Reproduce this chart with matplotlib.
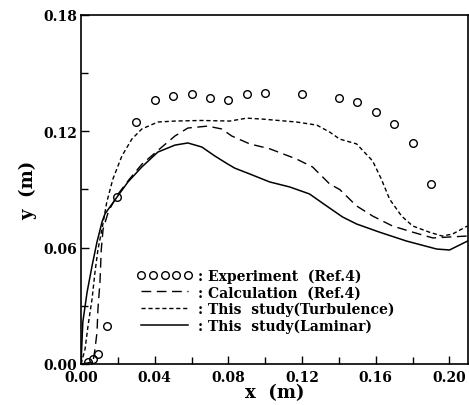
import numpy as np
import matplotlib
matplotlib.use("Agg")
import matplotlib.pyplot as plt
from matplotlib.ticker import MultipleLocator, FormatStrFormatter

# Experiment (Ref.4)
exp_x = [0.004, 0.0065, 0.009, 0.014, 0.0195, 0.030, 0.040, 0.050, 0.060, 0.070,
         0.080, 0.090, 0.100, 0.120, 0.140, 0.150, 0.160, 0.170, 0.180, 0.190]
exp_y = [0.001, 0.0026, 0.005, 0.0196, 0.086, 0.125, 0.136, 0.138, 0.139, 0.137,
         0.136, 0.139, 0.140, 0.139, 0.137, 0.135, 0.130, 0.124, 0.114, 0.093]

# Calculation (Ref.4)
calc_x = [0.000, 0.0065, 0.0076, 0.0087, 0.0092, 0.0103, 0.011, 0.012, 0.015, 0.020,
          0.026, 0.033, 0.0439, 0.051, 0.058, 0.0688, 0.0764, 0.0818, 0.0916, 0.1024,
          0.117, 0.1257, 0.135, 0.1404, 0.1496, 0.1583, 0.169, 0.180, 0.191, 0.200,
          0.2098]
calc_y = [0.000, 0.001, 0.0077, 0.0165, 0.0284, 0.0423, 0.059, 0.0696, 0.079, 0.0875,
          0.095, 0.103, 0.1119, 0.1176, 0.1217, 0.1227, 0.1212, 0.1176, 0.1135, 0.111,
          0.1057, 0.1016, 0.0928, 0.090, 0.0815, 0.0763, 0.0712, 0.068, 0.065, 0.0655,
          0.066]

# This study (Turbulence)
turb_x = [0.000, 0.0022, 0.0038, 0.006, 0.0076, 0.0092, 0.0114, 0.014, 0.0173, 0.0222,
          0.0276, 0.033, 0.0417, 0.051, 0.065, 0.0808, 0.090, 0.0986, 0.117, 0.128,
          0.135, 0.1404, 0.1496, 0.1583, 0.163, 0.1675, 0.174, 0.180, 0.189, 0.196,
          0.2016, 0.2098]
turb_y = [0.000, 0.0077, 0.0196, 0.0335, 0.0474, 0.059, 0.0696, 0.0835, 0.0954, 0.1073,
          0.116, 0.1212, 0.1248, 0.1253, 0.1256, 0.1253, 0.1268, 0.1263, 0.1248, 0.1232,
          0.1196, 0.116, 0.1135, 0.1047, 0.0954, 0.085, 0.0763, 0.0712, 0.068, 0.066,
          0.067, 0.0712]

# This study (Laminar)
lam_x = [0.000, 0.001, 0.0033, 0.006, 0.0087, 0.0114, 0.013, 0.020, 0.0255, 0.033,
         0.0417, 0.051, 0.058, 0.0656, 0.0726, 0.0797, 0.0835, 0.0916, 0.1024, 0.1133,
         0.124, 0.1333, 0.142, 0.1496, 0.162, 0.1767, 0.193, 0.200, 0.2098]
lam_y = [0.000, 0.0217, 0.037, 0.0506, 0.063, 0.0732, 0.0774, 0.0867, 0.0939, 0.1016,
         0.1093, 0.1129, 0.114, 0.1119, 0.1073, 0.1031, 0.101, 0.098, 0.0939, 0.0913,
         0.0877, 0.0815, 0.0758, 0.0722, 0.068, 0.0634, 0.0593, 0.0588, 0.0634]

plt.rcParams['font.family'] = ['DejaVu Serif']
plt.rcParams['font.weight'] = 'bold'

fig = plt.figure(figsize=(4.69, 4.06), dpi=100)
ax = fig.add_axes([0.1727, 0.101, 0.825, 0.8596])

h_exp, = ax.plot(exp_x, exp_y, 'o', mfc='none', mec='black', ms=5.5, mew=1.0)
h_calc, = ax.plot(calc_x, calc_y, color='black', lw=1.0, dashes=(7, 4),
                  dash_joinstyle='round')
h_turb, = ax.plot(turb_x, turb_y, color='black', lw=1.0, dashes=(3, 2),
                  dash_joinstyle='round')
h_lam, = ax.plot(lam_x, lam_y, color='black', lw=1.1, solid_joinstyle='round')

ax.set_xlim(0.0, 0.21)
ax.set_ylim(0.0, 0.18)
ax.xaxis.set_major_locator(MultipleLocator(0.04))
ax.xaxis.set_minor_locator(MultipleLocator(0.02))
ax.yaxis.set_major_locator(MultipleLocator(0.06))
ax.yaxis.set_minor_locator(MultipleLocator(0.03))
ax.xaxis.set_major_formatter(FormatStrFormatter('%.2f'))
ax.yaxis.set_major_formatter(FormatStrFormatter('%.2f'))
ax.tick_params(which='both', direction='in', top=False, right=False, width=1.0)
ax.tick_params(which='major', length=6, labelsize=10, pad=3)
ax.tick_params(axis='x', which='major', pad=4)
ax.tick_params(which='minor', length=5)
for lab in ax.get_xticklabels() + ax.get_yticklabels():
    lab.set_fontweight('bold')
for sp in ax.spines.values():
    sp.set_linewidth(1.2)

ax.set_xlabel('x  (m)', fontsize=13, fontweight='bold', labelpad=0)
ax.set_ylabel('y  (m)', fontsize=13, fontweight='bold', labelpad=4)

leg = ax.legend([h_exp, h_calc, h_turb, h_lam],
                [': Experiment  (Ref.4)', ': Calculation  (Ref.4)',
                 ': This  study(Turbulence)', ': This  study(Laminar)'],
                loc='upper left', bbox_to_anchor=(0.13, 0.29), frameon=False,
                numpoints=5, handlelength=4.0, handletextpad=0.4,
                labelspacing=0.18, borderaxespad=0, prop={'size': 10, 'weight': 'bold'})
for t in leg.get_texts():
    t.set_fontweight('bold')

fig.savefig('out.png', dpi=100)
